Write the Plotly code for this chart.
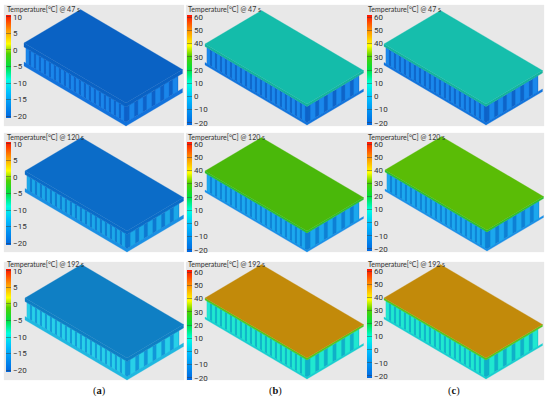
import plotly.graph_objects as go

W, H = 550, 399
# panel boxes
col_x = [(4, 184), (186, 365), (365, 544)]
row_y = [(5, 126), (133, 252), (262, 380)]
times = [47, 120, 192]
title_y = [9, 137, 264]
title_x = [6, 187, 367]
col_labels = ["(<b>a</b>)", "(<b>b</b>)", "(<b>c</b>)"]
label_x = [99, 275, 454]
ticks_a = [-20, -15, -10, -5, 0, 5, 10]
ticks_bc = [-20, -10, 0, 10, 20, 30, 40, 50, 60]

# colour bar extents (top, bottom) rows x cols
bar_y = [[(15, 118), (15, 125), (15, 125)],
         [(142, 245), (142, 252), (142, 251)],
         [(269, 372), (270, 380), (269, 378)]]
bar_x = [6, 187, 367]

# left corner of the top plate for each panel, rows x cols
left_corner = [[(24, 43), (205, 44), (384, 44)],
               [(25, 171), (205, 171), (385, 170)],
               [(25, 298), (205, 298), (384, 298)]]
long_edge = (102, 60)
short_edge = (56.5, -33.5)
core_height = [[15, 16, 16], [14, 17, 17], [15, 17, 17]]
plate_thick = [[4, 2.5, 2.5], [3.5, 2, 2], [3.5, 2, 2]]
n_long, n_short = 20, 6

top_col = [["#0a62c4", "#14bcaa", "#16beac"],
           ["#0b6cc8", "#4ab80a", "#5abc06"],
           ["#0f7fc4", "#c28a0a", "#c28a0a"]]
edge_col = [["#0a62c4", "#14b49c", "#14b49c"],
            ["#0b6cc8", "#2cc030", "#2cc030"],
            ["#0f7fc4", "#50c820", "#50c820"]]
rib_light = [["#1a86ea", "#1a88ec", "#1a88ec"],
             ["#1ca8e8", "#1ca8ee", "#1ca8ee"],
             ["#28d0e8", "#20e8d0", "#20e8d0"]]
rib_dark = [["#0e62c8", "#0e64c8", "#0e64c8"],
            ["#0e78d0", "#0e80d4", "#0e80d4"],
            ["#1296d8", "#10b0c8", "#10b0c8"]]
bottom_col = [["#1272dc", "#1274dc", "#1274dc"],
              ["#1a90e4", "#1a90e8", "#1a90e8"],
              ["#20b8e0", "#18d0d0", "#18d0d0"]]

cb_scale = [[0.0, "#0066e0"], [0.125, "#0090f0"], [0.25, "#00c0ff"], [0.375, "#00ffe0"],
            [0.5, "#00e040"], [0.625, "#50d000"], [0.72, "#ffff00"], [0.86, "#ff9000"], [1.0, "#ff1000"]]

fig = go.Figure()


def polys(items, color):
    xs, ys = [], []
    for pts in items:
        for p in pts + [pts[0]]:
            xs.append(p[0]); ys.append(p[1])
        xs.append(None); ys.append(None)
    fig.add_trace(go.Scatter(x=xs, y=ys, mode="lines", fill="toself", fillcolor=color,
                             line=dict(color=color, width=0.3), hoverinfo="skip", showlegend=False))


def along(p, v, t):
    return (p[0] + v[0] * t, p[1] + v[1] * t)


def drop(p, dz):
    return (p[0], p[1] + dz)


def wall(a, b, z0, z1):
    return [drop(a, z0), drop(b, z0), drop(b, z1), drop(a, z1)]


for r in range(3):
    for c in range(3):
        x0, x1 = col_x[c]; y0, y1 = row_y[r]
        polys([[(x0, y0), (x1, y0), (x1, y1), (x0, y1)]], "#e8e8e8")
        L = left_corner[r][c]
        B = along(L, long_edge, 1)
        R = along(B, short_edge, 1)
        T = along(L, short_edge, 1)
        th = plate_thick[r][c]; hc = core_height[r][c]
        top_z, bot_z = th, th + hc
        # bottom plate
        polys([wall(L, B, bot_z, bot_z + th), wall(B, R, bot_z, bot_z + th)], bottom_col[r][c])
        # core faces
        s0 = 0.02
        A = along(L, long_edge, s0)
        E = along(B, short_edge, 0.92)
        polys([wall(A, B, top_z, bot_z), wall(B, E, top_z, bot_z)], rib_dark[r][c])
        stripes = []
        for i in range(n_long):
            t0 = s0 + (1 - s0) * i / n_long
            t1 = t0 + (1 - s0) / n_long * 0.58
            stripes.append(wall(along(L, long_edge, t0), along(L, long_edge, t1), top_z, bot_z))
        for i in range(n_short):
            t0 = 0.92 * (i + 0.4) / n_short
            t1 = t0 + 0.92 / n_short * 0.55
            stripes.append(wall(along(B, short_edge, t0), along(B, short_edge, t1), top_z, bot_z))
        polys(stripes, rib_light[r][c])
        # top plate
        polys([wall(L, B, 0, th), wall(B, R, 0, th)], edge_col[r][c])
        polys([[L, T, R, B]], top_col[r][c])

        # colour bar
        tv = ticks_a if c == 0 else ticks_bc
        span = tv[-1] - tv[0]
        bt, bb = bar_y[r][c]
        fig.add_trace(go.Scatter(
            x=[None], y=[None], mode="markers", hoverinfo="skip", showlegend=False,
            marker=dict(color=[tv[0]], cmin=tv[0] - span * 0.02, cmax=tv[-1] + span * 0.02, colorscale=cb_scale,
                        colorbar=dict(x=bar_x[c] / W, xanchor="left", y=1 - bt / H, yanchor="top",
                                      lenmode="pixels", len=bb - bt, thicknessmode="pixels", thickness=5,
                                      outlinewidth=0, borderwidth=0, xpad=0, ypad=0,
                                      tickmode="array", tickvals=tv, ticktext=[str(v).replace("-", "−") for v in tv],
                                      ticks="inside", ticklen=5, tickwidth=0.5, tickcolor="rgba(60,60,60,0.45)",
                                      tickfont=dict(family="Roboto", size=8, color="#333")))))
        fig.add_annotation(x=title_x[c], y=title_y[r], xref="x", yref="y", xanchor="left", yanchor="middle",
                           text=f"Temperature[°C] @ {times[r]} s", showarrow=False, borderpad=0,
                           font=dict(family="Lato", size=7, color="#333"))

for c in range(3):
    fig.add_annotation(x=label_x[c], y=391, xref="x", yref="y", text=col_labels[c], showarrow=False,
                       font=dict(family="Liberation Serif", size=10.5, color="#111"))

fig.update_layout(width=W, height=H, margin=dict(l=0, r=0, t=0, b=0, autoexpand=False),
                  paper_bgcolor="white", plot_bgcolor="white", showlegend=False,
                  xaxis=dict(range=[0, W], visible=False, fixedrange=True),
                  yaxis=dict(range=[H, 0], visible=False, fixedrange=True))
fig.write_html("out.html", config=dict(displayModeBar=False),
               post_script="document.body.style.margin='0';document.documentElement.style.overflow='hidden';")
